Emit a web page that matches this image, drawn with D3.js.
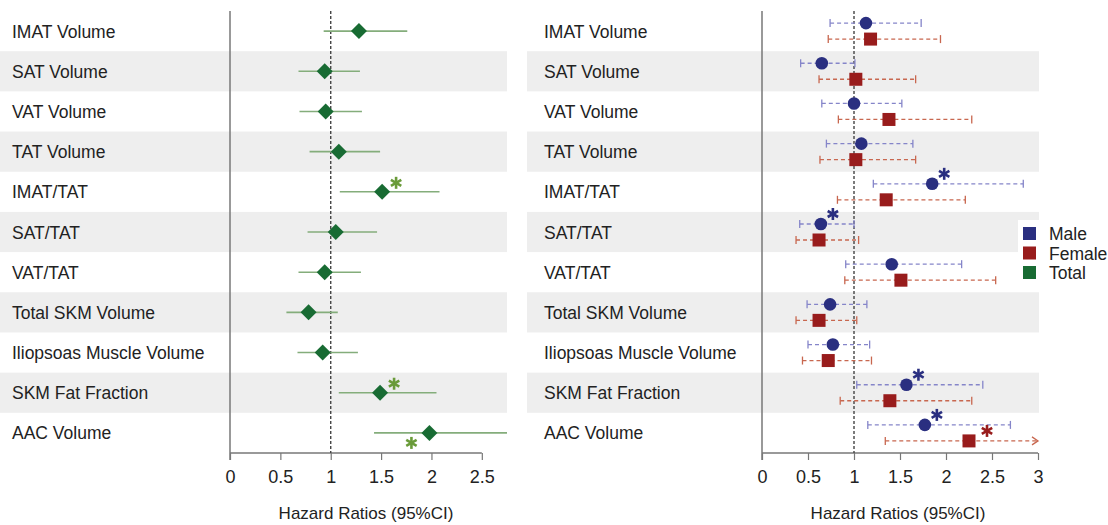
<!doctype html>
<html>
  <head>
    <meta charset="utf-8">
    <title>Hazard ratios forest plot</title>
    <script src="https://cdnjs.cloudflare.com/ajax/libs/d3/7.8.5/d3.min.js"></script>
    <style>
      body { margin: 0; background: #fff; }
      svg text { font-family: "Liberation Sans", Arial, sans-serif; fill: #222; }
    </style>
  </head>
  <body>
    <div id="my-svg-chart"></div>
    <script>
      // row labels (same for both panels)
      const labels = ['IMAT Volume', 'SAT Volume', 'VAT Volume', 'TAT Volume', 'IMAT/TAT', 'SAT/TAT',
                      'VAT/TAT', 'Total SKM Volume', 'Iliopsoas Muscle Volume', 'SKM Fat Fraction', 'AAC Volume']

      // total cohort: hazard ratio, lower and upper 95% CI
      const totalHR = [1.28, 0.94, 0.95, 1.08, 1.51, 1.05, 0.94, 0.78, 0.92, 1.49, 1.98]
      const totalLo = [0.93, 0.68, 0.69, 0.79, 1.09, 0.77, 0.68, 0.56, 0.67, 1.08, 1.43]
      const totalHi = [1.76, 1.29, 1.31, 1.49, 2.08, 1.46, 1.30, 1.07, 1.27, 2.05, 2.9]
      // 0 = not significant, 1 = star upper right, 2 = star lower left
      const totalSig = [0, 0, 0, 0, 1, 0, 0, 0, 0, 1, 2]

      // men
      const maleHR = [1.13, 0.65, 1.00, 1.08, 1.85, 0.64, 1.41, 0.74, 0.77, 1.57, 1.77]
      const maleLo = [0.74, 0.42, 0.65, 0.70, 1.21, 0.41, 0.91, 0.49, 0.50, 1.03, 1.15]
      const maleHi = [1.73, 1.01, 1.52, 1.64, 2.84, 1.00, 2.17, 1.14, 1.17, 2.40, 2.70]
      const maleSig = [0, 0, 0, 0, 1, 1, 0, 0, 0, 1, 1]

      // women
      const femaleHR = [1.18, 1.02, 1.38, 1.02, 1.35, 0.62, 1.51, 0.62, 0.72, 1.39, 2.25]
      const femaleLo = [0.72, 0.62, 0.83, 0.63, 0.82, 0.37, 0.90, 0.37, 0.44, 0.85, 1.34]
      const femaleHi = [1.94, 1.67, 2.28, 1.67, 2.21, 1.05, 2.54, 1.03, 1.19, 2.28, 3.4]
      const femaleSig = [0, 0, 0, 0, 0, 0, 0, 0, 0, 0, 1]

      const leftTicks = [0, 0.5, 1, 1.5, 2, 2.5]
      const rightTicks = [0, 0.5, 1, 1.5, 2, 2.5, 3]
      const legendItems = ['Male', 'Female', 'Total']

      const colMale = '#2a2f80', colFemale = '#981c1c', colTotal = '#186b33'
      const colMaleCI = '#8585c9', colFemaleCI = '#c8674f', colTotalCI = '#84ad7b'

      const svg = d3.select('#my-svg-chart').append('svg')
        .attr('width', 1108).attr('height', 525)

      const y = d3.scaleBand().domain(labels).range([11, 453])
      const xL = d3.scaleLinear().domain([0, 2.75]).range([230, 507])
      const xR = d3.scaleLinear().domain([0, 3]).range([762, 1038])

      // alternating bands
      const bandRows = labels.filter((d, i) => i % 2 == 1)
      svg.selectAll('rect.bandL').data(bandRows).join('rect')
        .attr('x', 0).attr('width', 507)
        .attr('y', d => y(d)).attr('height', y.bandwidth())
        .attr('fill', '#eeeeee')
      svg.selectAll('rect.bandR').data(bandRows).join('rect')
        .attr('x', 527).attr('width', 1039 - 527)
        .attr('y', d => y(d)).attr('height', y.bandwidth())
        .attr('fill', '#eeeeee')

      // row labels
      svg.selectAll('text.labL').data(labels).join('text')
        .attr('x', 12).attr('y', d => y(d) + y.bandwidth() / 2 + 6.5)
        .style('font-size', '17.5px').text(d => d)
      svg.selectAll('text.labR').data(labels).join('text')
        .attr('x', 544).attr('y', d => y(d) + y.bandwidth() / 2 + 6.5)
        .style('font-size', '17.5px').text(d => d)

      function drawAxis(x, ticks, xmax) {
        const g = svg.append('g').attr('transform', 'translate(0,453)')
          .call(d3.axisBottom(x).tickValues(ticks).tickSize(7).tickSizeOuter(0).tickPadding(10)
                .tickFormat(d3.format('')))
        g.select('.domain').attr('stroke', '#777').attr('stroke-width', 1.5)
          .attr('d', `M${x(0)},0H${x(xmax)}`)
        g.selectAll('.tick line').attr('stroke', '#777').attr('stroke-width', 1.2)
        g.selectAll('.tick text').style('font-size', '18px').attr('fill', '#222')
        // y axis line
        svg.append('line').attr('x1', x(0)).attr('x2', x(0)).attr('y1', 11).attr('y2', 460)
          .attr('stroke', '#777').attr('stroke-width', 1.5)
        // reference line at HR = 1
        svg.append('line').attr('x1', x(1)).attr('x2', x(1)).attr('y1', 11).attr('y2', 453)
          .attr('stroke', '#444').attr('stroke-width', 1.4).attr('stroke-dasharray', '3,2')
      }
      drawAxis(xL, leftTicks, 2.5)
      drawAxis(xR, rightTicks, 3)

      svg.append('text').attr('x', 366).attr('y', 519).attr('text-anchor', 'middle')
        .style('font-size', '17px').text('Hazard Ratios (95%CI)')
      svg.append('text').attr('x', 898).attr('y', 519).attr('text-anchor', 'middle')
        .style('font-size', '17px').text('Hazard Ratios (95%CI)')

      function star(cx, cy, color) {
        const r = 6
        const g = svg.append('g').attr('transform', `translate(${cx},${cy})`)
        ;[90, 30, 150].forEach(a => {
          const rad = a * Math.PI / 180
          g.append('line')
            .attr('x1', -r * Math.cos(rad)).attr('y1', -r * Math.sin(rad))
            .attr('x2', r * Math.cos(rad)).attr('y2', r * Math.sin(rad))
            .attr('stroke', color).attr('stroke-width', 2.6)
        })
      }

      // left panel: total
      const leftClip = svg.append('clipPath').attr('id', 'clipL')
      leftClip.append('rect').attr('x', 0).attr('y', 0).attr('width', 507).attr('height', 525)
      const gL = svg.append('g').attr('clip-path', 'url(#clipL)')
      const cy = i => y(labels[i]) + y.bandwidth() / 2
      gL.selectAll('line.ci').data(totalHR).join('line')
        .attr('x1', (d, i) => xL(totalLo[i])).attr('x2', (d, i) => xL(totalHi[i]))
        .attr('y1', (d, i) => cy(i)).attr('y2', (d, i) => cy(i))
        .attr('stroke', colTotalCI).attr('stroke-width', 1.6)
      gL.selectAll('path.dia').data(totalHR).join('path')
        .attr('d', (d, i) => { const cx = xL(d), c = cy(i), s = 8; return `M${cx - s},${c}L${cx},${c - s}L${cx + s},${c}L${cx},${c + s}Z` })
        .attr('fill', colTotal)
      totalSig.forEach((s, i) => {
        if (s == 1) star(xL(totalHR[i]) + 14, cy(i) - 9, '#6a9b3a')
        if (s == 2) star(xL(totalHR[i]) - 18, cy(i) + 10, '#6a9b3a')
      })

      // right panel: male & female
      function drawSeries(hr, lo, hi, sig, off, ciCol, col, shape, starDx) {
        const g = svg.append('g')
        hr.forEach((d, i) => {
          const yy = cy(i) + off
          const over = hi[i] > 3
          const x2 = over ? xR(3) : xR(hi[i])
          g.append('line').attr('x1', xR(lo[i])).attr('x2', x2).attr('y1', yy).attr('y2', yy)
            .attr('stroke', ciCol).attr('stroke-width', 1.3).attr('stroke-dasharray', '4,3')
          g.append('line').attr('x1', xR(lo[i])).attr('x2', xR(lo[i])).attr('y1', yy - 4).attr('y2', yy + 4)
            .attr('stroke', ciCol).attr('stroke-width', 1.3)
          if (over) {
            g.append('path').attr('d', `M${x2 - 6},${yy - 4}L${x2},${yy}L${x2 - 6},${yy + 4}`)
              .attr('fill', 'none').attr('stroke', ciCol).attr('stroke-width', 1.3)
          } else {
            g.append('line').attr('x1', x2).attr('x2', x2).attr('y1', yy - 4).attr('y2', yy + 4)
              .attr('stroke', ciCol).attr('stroke-width', 1.3)
          }
          if (shape == 'circle') {
            g.append('circle').attr('cx', xR(d)).attr('cy', yy).attr('r', 6.3).attr('fill', col)
          } else {
            g.append('rect').attr('x', xR(d) - 6.5).attr('y', yy - 6.5).attr('width', 13).attr('height', 13).attr('fill', col)
          }
          if (sig[i]) star(xR(d) + starDx, yy - 10, col)
        })
      }
      drawSeries(maleHR, maleLo, maleHi, maleSig, -8, colMaleCI, colMale, 'circle', 12)
      drawSeries(femaleHR, femaleLo, femaleHi, femaleSig, 8, colFemaleCI, colFemale, 'square', 18)

      // legend
      svg.append('rect').attr('x', 1018).attr('y', 220).attr('width', 90).attr('height', 60).attr('fill', '#fff')
      const legCols = [colMale, colFemale, colTotal]
      legendItems.forEach((d, i) => {
        svg.append('rect').attr('x', 1023).attr('y', 227 + i * 19.5).attr('width', 13).attr('height', 13)
          .attr('fill', legCols[i])
        svg.append('text').attr('x', 1049).attr('y', 240 + i * 19.5).style('font-size', '17.5px').text(d)
      })
    </script>
  </body>
</html>
